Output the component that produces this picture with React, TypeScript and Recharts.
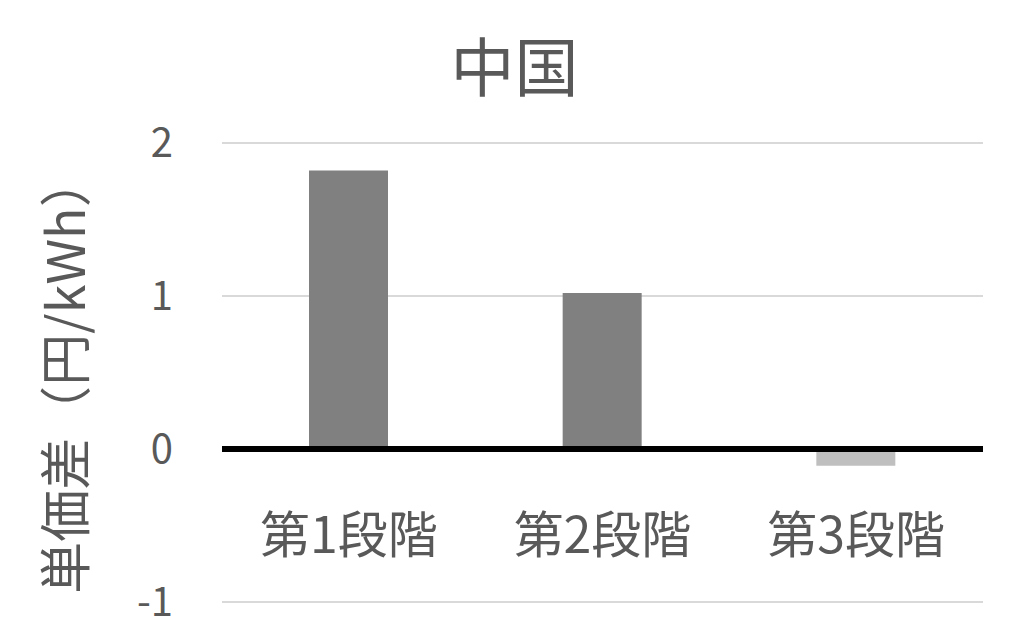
import { BarChart, Bar, XAxis, YAxis, CartesianGrid, ReferenceLine, Cell } from "recharts";

const categories = ["第1段階", "第2段階", "第3段階"];
const values = [1.82, 1.02, -0.11];
const barColors = ["#808080", "#808080", "#bfbfbf"];
const yTicks = [-1, 0, 1, 2];

const data = categories.map((name, i) => ({ name, value: values[i] }));

const FONT = "'Noto Sans CJK JP', 'Noto Sans', sans-serif";
const TEXT = "#595959";

function CategoryTick({ x, y, payload }: any) {
  return (
    <text x={x} y={y} dy={-79} textAnchor="middle" dominantBaseline="central" fill={TEXT} fontSize={50} fontFamily={FONT}>
      {payload.value}
    </text>
  );
}

function YTitle({ viewBox }: any) {
  const cx = 62;
  const cy = viewBox.y + viewBox.height / 2 + 2;
  return (
    <text x={cx} y={cy} transform={`rotate(-90, ${cx}, ${cy})`} textAnchor="middle" dominantBaseline="central" fill={TEXT} fontSize={52} fontFamily={FONT}>
      単価差（円/kWh）
    </text>
  );
}

export default function App() {
  return (
    <div style={{ position: "relative", width: 1024, height: 644, background: "#fff" }}>
      <style>{`body{margin:0}`}</style>
      <div
        style={{
          position: "absolute",
          left: 0,
          width: 1029,
          top: 27,
          textAlign: "center",
          fontFamily: FONT,
          fontSize: 64,
          lineHeight: "72px",
          color: TEXT,
        }}
      >
        中国
      </div>
      <BarChart width={1024} height={644} data={data} margin={{ top: 143, right: 41, bottom: 34, left: 0 }}>
        <CartesianGrid vertical={false} stroke="#d9d9d9" strokeWidth={2} />
        <XAxis dataKey="name" axisLine={false} tickLine={false} tick={<CategoryTick />} height={8} />
        <YAxis
          type="number"
          domain={[-1, 2]}
          ticks={yTicks}
          axisLine={false}
          tickLine={false}
          width={222}
          tickMargin={43}
          tick={{ fill: TEXT, fontSize: 40, fontFamily: FONT }}
          label={<YTitle />}
        />
        <ReferenceLine y={0} stroke="#000" strokeWidth={6} />
        <Bar dataKey="value" barSize={79} isAnimationActive={false}>
          {data.map((d, i) => (
            <Cell key={d.name} fill={barColors[i]} />
          ))}
        </Bar>
      </BarChart>
    </div>
  );
}
